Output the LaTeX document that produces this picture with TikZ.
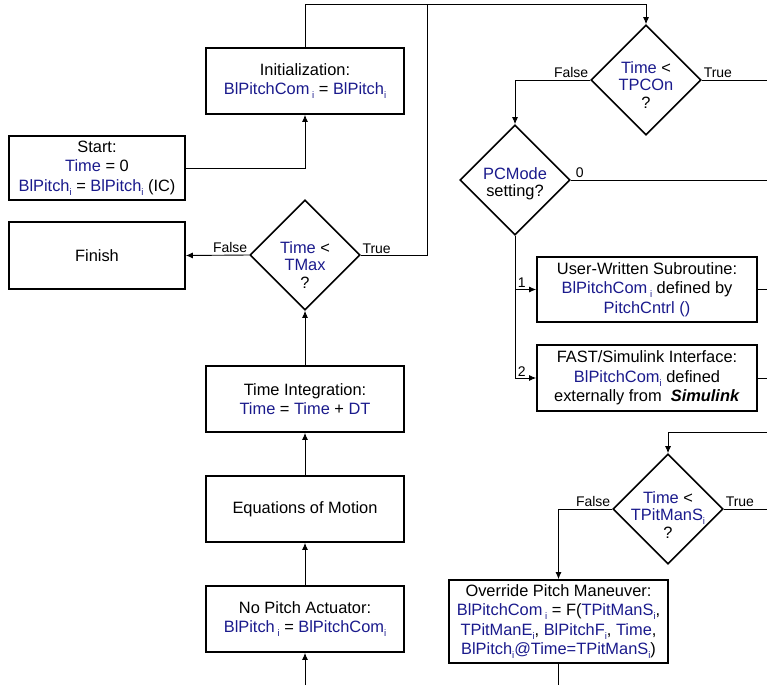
\documentclass[tikz,border=0pt]{standalone}
\usepackage{fontspec}
\setmainfont{Liberation Sans}
\usetikzlibrary{arrows.meta,shapes.geometric}

\definecolor{varblue}{RGB}{26,26,140}
\newcommand{\var}[1]{\textcolor{varblue}{#1}}
\newcommand{\ix}{\textcolor{varblue}{\raisebox{-4pt}{\fontsize{9.5}{9.5}\selectfont i}}}

\begin{document}
\begin{tikzpicture}[x=1pt,y=-1pt,
    font=\fontsize{16.4}{19.5}\selectfont,
    box/.style={draw, line width=1.7, minimum width=198, minimum height=66, align=center, inner sep=1},
    decide/.style={diamond, draw, line width=1.6, minimum width=110, minimum height=110, inner sep=0},
    qtext/.style={align=center, font=\fontsize{16.4}{17.5}\selectfont},
    conn/.style={line width=0.9},
    flow/.style={conn, -{Latex[length=7pt, width=6pt]}},
    tag/.style={font=\fontsize{14}{14}\selectfont, inner sep=1.5}]
      \useasboundingbox (0,0) rectangle (767,685);

      % left column
      \node[box, minimum width=176, minimum height=64] (start) at (97,168)
        {Start:\\\var{Time} = 0\\\var{BlPitch}\ix{} = \var{BlPitch}\ix{} (IC)};
      \node[box] (init) at (305,81) {Initialization:\\\var{BlPitchCom}\,\ix{} = \var{BlPitch}\ix};
      \node[box, minimum width=176, minimum height=67] (finish) at (97,255.5) {Finish};
      \node[decide, label={[qtext, yshift=-10]center:{\var{Time} <\\\var{TMax}\\?}}] (tmax) at (305,255) {};
      \node[box] (tint) at (305,399) {Time Integration:\\\var{Time} = \var{Time} + \var{DT}};
      \node[box] (eom) at (305,509) {Equations of Motion};
      \node[box] (nopa) at (305,619) {No Pitch Actuator:\\\var{BlPitch}\,\ix{} = \var{BlPitchCom}\ix};

      % right column
      \node[decide, label={[qtext, yshift=-5]center:{\var{Time} <\\\var{TPCOn}\\?}}] (tpcon) at (646,80) {};
      \node[decide, label={[qtext, yshift=-4]center:{\var{PCMode}\\setting?}}] (pcmode) at (515,180) {};
      \node[box, minimum width=220, minimum height=65] (user) at (647,289.5)
        {User-Written Subroutine:\\\var{BlPitchCom}\,\ix{} defined by\\\var{PitchCntrl ()}};
      \node[box, minimum width=220, minimum height=66] (fast) at (647,378)
        {FAST/Simulink Interface:\\\var{BlPitchCom}\ix{} defined\\externally from \ \textbf{\textit{Simulink}}};
      \node[decide, label={[qtext, yshift=-6]center:{\var{Time} <\\\var{TPitManS}\ix\\?}}] (tpms) at (668,509) {};
      \node[box, minimum width=219, minimum height=83] (override) at (558.5,621.5)
        {Override Pitch Maneuver:\\\var{BlPitchCom}\,\ix{} = F(\var{TPitManS}\ix,\\
         \var{TPitManE}\ix, \var{BlPitchF}\ix, \var{Time},\\\var{BlPitch}\ix\var{@Time=TPitManS}\ix)};

      % loose ends
      \coordinate (loop) at (427,4);
      \coordinate (inNP) at (305,685);
      \coordinate (tpconOut) at (767,80);
      \coordinate (modeOut) at (767,180);
      \coordinate (userOut) at (767,289.5);
      \coordinate (fastOut) at (767,378);
      \coordinate (tpmsIn) at (767,432);
      \coordinate (tpmsOut) at (767,509);
      \coordinate (ovOut) at (558.5,685);

      % connectors
      \draw[flow] (start.east) -| (init.south);
      \draw[conn] (init.north) |- (loop);
      \draw[flow] (tmax.east) -| (loop) -| (tpcon.north);
      \draw (tmax.east) node[tag, above right] {True};
      \draw[flow] (tmax.west) -- (finish.east) node[tag, pos=0, above left] {False};
      \draw[flow] (tint.north) -- (tmax.south);
      \draw[flow] (eom.north) -- (tint.south);
      \draw[flow] (nopa.north) -- (eom.south);
      \draw[flow] (inNP) -- (nopa.south);

      \draw[conn] (tpcon.east) -- (tpconOut) node[tag, pos=0, above right] {True};
      \draw[flow] (tpcon.west) -| (pcmode.north) node[tag, pos=0, above left] {False};
      \draw[conn] (pcmode.east) -- (modeOut) node[tag, pos=0, above right, xshift=3] {0};
      \draw[flow] (pcmode.south) |- (user.west) node[tag, pos=0.5, above right, xshift=1] {1};
      \draw[flow] (pcmode.south) |- (fast.west) node[tag, pos=0.5, above right, xshift=1] {2};
      \draw[conn] (user.east) -- (userOut);
      \draw[conn] (fast.east) -- (fastOut);

      \draw[flow] (tpmsIn) -| (tpms.north);
      \draw[conn] (tpms.east) -- (tpmsOut) node[tag, pos=0, above right] {True};
      \draw[flow] (tpms.west) -| (override.north) node[tag, pos=0, above left] {False};
      \draw[conn] (override.south) -- (ovOut);
\end{tikzpicture}
\end{document}
